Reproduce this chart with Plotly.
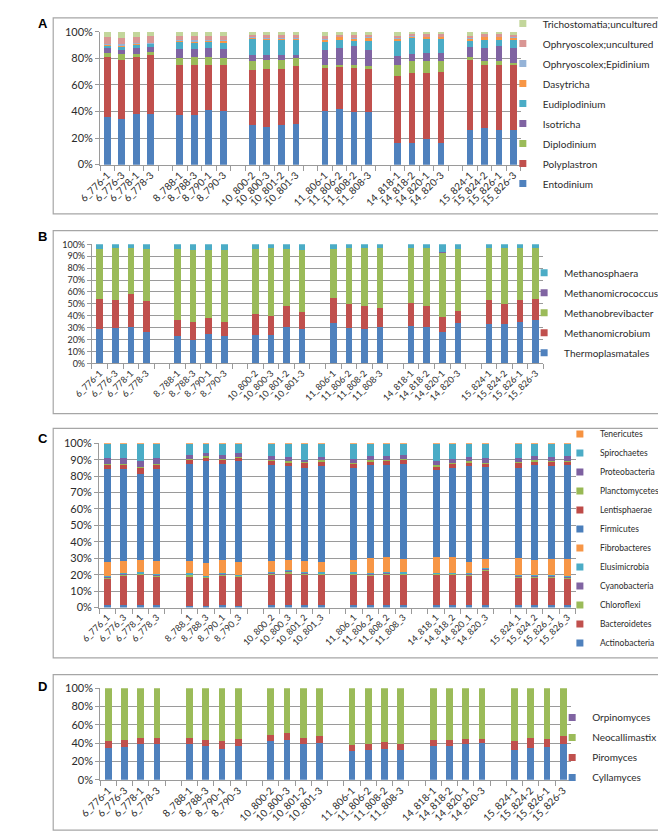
import plotly.graph_objects as go

W, H = 666, 832

# ---------------- data ----------------
samples_dash = ["6_776-1", "6_776-3", "6_778-1", "6_778-3",
                "8_788-1", "8_788-3", "8_790-1", "8_790-3",
                "10_800-2", "10_800-3", "10_801-2", "10_801-3",
                "11_806-1", "11_806-2", "11_808-2", "11_808-3",
                "14_818-1", "14_818-2", "14_820-1", "14_820-3",
                "15_824-1", "15_824-2", "15_826-1", "15_826-3"]
samples_us = ["6_776_1", "6_776_3", "6_778_1", "6_778_3",
              "8_788_1", "8_788_3", "8_790_1", "8_790_3",
              "10_800_2", "10_800_3", "10_801_2", "10_801_3",
              "11_806_1", "11_806_2", "11_808_2", "11_808_3",
              "14_818_1", "14_818_2", "14_820_1", "14_820_3",
              "15_824_1", "15_824_2", "15_826_1", "15_826_3"]

# Panel A - ciliates (%)
entodinium = [35.8, 34.3, 38.3, 38.3, 37.0, 37.0, 41.2, 40.2, 29.6, 28.4, 29.6, 30.4,
              40.0, 41.5, 39.5, 39.5, 16.5, 16.5, 19.0, 16.0, 26.4, 27.2, 25.9, 25.9]
polyplastron = [44.9, 44.7, 42.4, 43.9, 38.3, 38.3, 34.1, 35.1, 41.3, 43.2, 42.0, 43.6,
                32.8, 32.5, 33.3, 32.5, 50.2, 52.6, 50.1, 53.9, 52.6, 48.1, 49.4, 48.9]
diplodinium = [3.3, 4.0, 2.3, 2.5, 4.9, 5.4, 5.4, 4.9, 6.9, 6.9, 6.9, 6.2,
               2.5, 1.3, 2.5, 2.0, 8.6, 8.7, 8.7, 8.4, 2.2, 2.5, 2.5, 1.7]
isotricha = [3.7, 3.4, 4.7, 3.7, 7.0, 6.3, 7.0, 7.0, 4.4, 3.7, 3.7, 2.5,
             11.1, 12.7, 13.6, 12.4, 6.2, 5.4, 6.2, 5.7, 7.2, 9.9, 11.1, 11.5]
eudiplodinium = [2.3, 3.0, 2.9, 2.6, 5.4, 4.9, 5.3, 4.8, 12.8, 12.4, 12.4, 11.9,
                 6.2, 5.8, 4.9, 6.6, 12.3, 11.8, 11.0, 10.6, 5.4, 6.1, 4.9, 5.8]
dasytricha = [0.5, 0.8, 0.4, 0.4, 1.2, 1.3, 0.8, 1.5, 0.8, 0.8, 0.7, 0.8,
              2.0, 2.5, 1.5, 2.5, 1.2, 1.8, 1.5, 1.7, 1.0, 2.5, 2.5, 1.7]
ophryo_epidinium = [0.3, 0.3, 0.3, 0.3, 0.3, 0.3, 0.3, 0.3, 0.2, 0.2, 0.2, 0.2,
                    0.3, 0.2, 0.2, 0.2, 0.3, 0.2, 0.2, 0.2, 0.2, 0.2, 0.2, 0.2]
ophryo_uncultured = [5.5, 5.1, 4.8, 4.8, 2.9, 3.0, 3.0, 3.0, 1.5, 1.9, 2.0, 1.9,
                     1.7, 1.0, 2.0, 1.8, 1.5, 1.0, 1.3, 1.5, 2.0, 1.5, 1.5, 1.8]
tricho_uncultured = [3.7, 4.4, 3.9, 3.5, 3.0, 3.5, 2.9, 3.2, 2.5, 2.5, 2.5, 2.5,
                     3.4, 2.5, 2.5, 2.5, 3.2, 2.0, 2.0, 2.0, 3.0, 2.0, 2.0, 2.5]

# Panel B - methanogens (%)
thermoplasmatales = [28.7, 29.6, 30.4, 26.0, 23.2, 19.3, 24.9, 23.2, 24.0, 24.0, 30.9, 28.7,
                     33.7, 30.1, 29.0, 30.4, 31.5, 30.9, 26.0, 33.7, 32.9, 32.9, 35.1, 36.5]
methanomicrobium = [25.2, 23.4, 27.6, 26.2, 13.3, 15.8, 12.9, 11.9, 17.4, 15.8, 17.1, 14.7,
                    21.3, 19.6, 19.0, 16.0, 19.6, 17.1, 13.2, 10.5, 20.7, 16.8, 18.5, 17.9]
methanobrevibacter = [42.5, 43.7, 38.7, 44.2, 59.4, 59.9, 57.2, 59.9, 54.5, 56.9, 48.4, 51.6,
                      41.4, 47.0, 48.7, 50.3, 45.6, 48.7, 53.9, 52.2, 43.1, 47.0, 43.1, 42.3]
methanomicrococcus = [0.1, 0.1, 0.1, 0.1, 0.1, 0.1, 0.1, 0.1, 0.1, 0.1, 0.1, 0.1,
                      0.1, 0.1, 0.1, 0.1, 0.1, 0.1, 0.1, 0.1, 0.1, 0.1, 0.1, 0.1]
methanosphaera = [3.5, 3.2, 3.2, 3.5, 4.0, 4.9, 4.9, 4.9, 4.0, 3.2, 3.5, 4.9,
                  3.5, 3.2, 3.2, 3.2, 3.2, 3.2, 6.8, 3.5, 3.2, 3.2, 3.2, 3.2]

# Panel C - bacterial phyla (%)
actinobacteria = [1.4, 1.4, 1.4, 1.4, 1.2, 1.2, 1.4, 1.2, 1.6, 1.6, 1.6, 1.6,
                  1.4, 1.4, 1.4, 1.4, 1.4, 1.4, 1.4, 1.4, 1.4, 1.4, 1.4, 1.4]
bacteroidetes = [16.0, 18.0, 18.6, 17.6, 17.8, 16.8, 18.0, 17.4, 18.4, 19.0, 18.4, 18.4,
                 18.6, 18.0, 18.6, 18.6, 18.6, 18.6, 18.0, 21.0, 16.6, 16.6, 17.0, 16.0]
chloroflexi = [0.8, 0.7, 0.6, 0.6, 0.8, 0.6, 0.7, 0.6, 0.7, 1.4, 0.7, 0.6,
               0.6, 0.7, 0.7, 0.6, 0.4, 0.4, 0.7, 0.7, 0.7, 0.8, 0.6, 0.8]
cyanobacteria = [0.3, 0.3, 0.3, 0.3, 0.4, 0.3, 0.4, 0.3, 0.4, 0.4, 0.4, 0.3,
                 0.3, 0.4, 0.4, 0.3, 0.3, 0.3, 0.4, 0.4, 0.4, 0.6, 0.3, 0.4]
elusimicrobia = [0.9, 0.6, 0.5, 0.5, 0.8, 0.5, 0.5, 0.5, 0.5, 0.6, 0.5, 0.5,
                 0.5, 0.5, 0.5, 0.5, 0.3, 0.3, 0.5, 0.5, 0.5, 0.6, 0.3, 0.4]
fibrobacteres = [8.2, 7.6, 7.6, 8.2, 7.6, 8.0, 8.0, 7.6, 7.0, 6.0, 7.0, 6.6,
                 7.6, 9.0, 9.0, 8.0, 9.6, 9.6, 7.0, 5.6, 10.4, 9.0, 9.8, 10.4]
firmicutes = [56.8, 55.8, 52.4, 55.8, 58.8, 62.0, 58.4, 61.4, 58.4, 57.4, 56.4, 58.0,
              56.0, 57.0, 56.4, 58.2, 52.8, 54.4, 58.0, 55.8, 55.0, 57.6, 56.6, 57.2]
lentisphaerae = [2.6, 2.6, 3.6, 2.6, 2.6, 1.6, 2.6, 2.0, 2.4, 1.6, 3.0, 3.0,
                 2.4, 2.0, 2.4, 2.4, 2.6, 2.4, 2.0, 2.2, 3.0, 2.4, 2.6, 2.0]
planctomycetes = [0.6, 0.6, 0.6, 0.6, 0.6, 1.0, 0.6, 0.6, 0.6, 1.0, 0.4, 0.6,
                  0.6, 0.6, 0.6, 0.6, 1.0, 0.6, 1.0, 0.6, 0.6, 0.6, 0.6, 0.6]
proteobacteria = [3.4, 3.4, 3.4, 3.4, 2.4, 2.0, 2.4, 2.4, 2.0, 2.4, 1.6, 1.8,
                  2.6, 2.4, 2.0, 2.0, 2.4, 2.4, 2.4, 2.8, 2.4, 2.4, 2.2, 2.8]
spirochaetes = [8.7, 8.7, 10.7, 8.7, 6.7, 5.7, 6.7, 5.7, 7.7, 8.3, 9.7, 8.3,
                9.1, 7.7, 7.7, 7.1, 10.3, 9.3, 8.3, 8.7, 8.7, 7.7, 8.3, 7.7]
tenericutes = [0.3, 0.3, 0.3, 0.3, 0.3, 0.3, 0.3, 0.3, 0.3, 0.3, 0.3, 0.3,
               0.3, 0.3, 0.3, 0.3, 0.3, 0.3, 0.3, 0.3, 0.3, 0.3, 0.3, 0.3]

# Panel D - fungi (%)
cyllamyces = [35.3, 36.0, 38.8, 38.8, 38.8, 36.7, 33.5, 36.7, 42.4, 43.2, 38.8, 40.6,
              31.7, 33.0, 33.8, 33.0, 37.0, 36.7, 38.8, 40.6, 33.0, 34.9, 35.6, 38.8]
piromyces = [7.1, 7.2, 7.2, 7.2, 7.2, 6.5, 8.5, 8.3, 6.9, 7.8, 7.2, 6.9,
             6.1, 6.6, 7.9, 6.6, 6.9, 6.5, 6.2, 4.4, 9.0, 11.1, 9.4, 8.7]
neocallimastix = [57.6, 56.8, 54.0, 54.0, 54.0, 56.8, 58.0, 55.0, 50.7, 49.0, 54.0, 52.5,
                  62.2, 60.4, 58.3, 60.4, 56.1, 56.8, 55.0, 55.0, 58.0, 54.0, 55.0, 52.5]
orpinomyces = [0.0] * 24

yticks_20 = [0, 20, 40, 60, 80, 100]
yticks_10 = [0, 10, 20, 30, 40, 50, 60, 70, 80, 90, 100]

# ---------------- helpers ----------------
def px_x(p):
    return p / W

def px_y(p):
    return 1 - p / H

GROUP = 4

def with_gaps(values):
    out = []
    for i, v in enumerate(values):
        if i and i % GROUP == 0:
            out.append(None)
        out.append(v)
    return out

def cats_with_gaps(labels):
    out = []
    g = 0
    for i, v in enumerate(labels):
        if i and i % GROUP == 0:
            g += 1
            out.append(" " * g)
        out.append(v)
    return out

FONT = "Lato, 'Liberation Sans', Arial, sans-serif"
GRID = "#9A9A9A"
TXT = "#2b2b2b"

fig = go.Figure()

panels = [
    dict(key="", legend="legend", labels=samples_dash, width=0.47,
         series=[("Entodinium", entodinium, "#4F81BD"),
                 ("Polyplastron", polyplastron, "#C0504D"),
                 ("Diplodinium", diplodinium, "#9BBB59"),
                 ("Isotricha", isotricha, "#8064A2"),
                 ("Eudiplodinium", eudiplodinium, "#4BACC6"),
                 ("Dasytricha", dasytricha, "#F79646"),
                 ("Ophryoscolex;Epidinium", ophryo_epidinium, "#95B3D7"),
                 ("Ophryoscolex;uncultured", ophryo_uncultured, "#D99694"),
                 ("Trichostomatia;uncultured", tricho_uncultured, "#C3D69B")],
         xdom=(72.5, 507.5), ydom=(17, 152), ticks=yticks_20, yfs=11, xfs=10,
         lx=489, ly=-6, lfs=10, gap=1),
    dict(key="2", legend="legend2", labels=samples_dash, width=0.42,
         series=[("Thermoplasmatales", thermoplasmatales, "#4F81BD"),
                 ("Methanomicrobium", methanomicrobium, "#C0504D"),
                 ("Methanobrevibacter", methanobrevibacter, "#9BBB59"),
                 ("Methanomicrococcus", methanomicrococcus, "#8064A2"),
                 ("Methanosphaera", methanosphaera, "#4BACC6")],
         xdom=(64, 531), ydom=(233, 354), ticks=yticks_10, yfs=9, xfs=9,
         lx=511, ly=247, lfs=10, gap=1),
    dict(key="3", legend="legend3", labels=samples_us, width=0.42,
         series=[("Actinobacteria", actinobacteria, "#4F81BD"),
                 ("Bacteroidetes", bacteroidetes, "#C0504D"),
                 ("Chloroflexi", chloroflexi, "#9BBB59"),
                 ("Cyanobacteria", cyanobacteria, "#8064A2"),
                 ("Elusimicrobia", elusimicrobia, "#4BACC6"),
                 ("Fibrobacteres", fibrobacteres, "#F79646"),
                 ("Firmicutes", firmicutes, "#4A7EBB"),
                 ("Lentisphaerae", lentisphaerae, "#BE4B48"),
                 ("Planctomycetes", planctomycetes, "#98B954"),
                 ("Proteobacteria", proteobacteria, "#7D60A0"),
                 ("Spirochaetes", spirochaetes, "#4BACC6"),
                 ("Tenericutes", tenericutes, "#F69240")],
         xdom=(71.5, 564.5), ydom=(435, 602), ticks=yticks_10, yfs=11, xfs=9,
         lx=548, ly=411, lfs=8.5, gap=0),
    dict(key="4", legend="legend4", labels=samples_dash, width=0.42,
         series=[("Cyllamyces", cyllamyces, "#4F81BD"),
                 ("Piromyces", piromyces, "#C0504D"),
                 ("Neocallimastix", neocallimastix, "#9BBB59"),
                 ("Orpinomyces", orpinomyces, "#8064A2")],
         xdom=(72.6, 559.8), ydom=(684, 777), ticks=yticks_20, yfs=11, xfs=10,
         lx=540, ly=699, lfs=10, gap=1),
]

layout = {}
for p in panels:
    xa, ya = "x" + p["key"], "y" + p["key"]
    cats = cats_with_gaps(p["labels"])
    n = len(p["series"])
    for i, (name, vals, col) in enumerate(p["series"]):
        fig.add_trace(go.Bar(x=cats, y=with_gaps(vals), name=name,
                             marker=dict(color=col, line=dict(width=0)),
                             width=p["width"], xaxis=xa, yaxis=ya,
                             legend=p["legend"], legendgroup=p["legend"] + name,
                             legendrank=n - i,
                             showlegend=False, hoverinfo="skip"))
        fig.add_trace(go.Scatter(x=[None], y=[None], name=name, mode="markers",
                                 marker=dict(symbol="square", size=7, color=col),
                                 xaxis=xa, yaxis=ya, legend=p["legend"],
                                 legendgroup=p["legend"] + name, legendrank=n - i,
                                 showlegend=True))
    layout["xaxis" + p["key"]] = dict(
        domain=[px_x(p["xdom"][0]), px_x(p["xdom"][1])], anchor=ya,
        type="category", categoryorder="array", categoryarray=cats,
        range=[-0.5, len(cats) - 0.5], tickson="boundaries",
        ticks="outside", ticklen=5, tickcolor=GRID, showline=True,
        linecolor=GRID, linewidth=1, tickangle=-45, showgrid=False,
        tickfont=dict(family=FONT, size=p["xfs"], color=TXT), fixedrange=True)
    layout["yaxis" + p["key"]] = dict(
        domain=[px_y(p["ydom"][1]), px_y(p["ydom"][0])], anchor=xa,
        range=[0, 100], tickmode="array", tickvals=p["ticks"],
        ticktext=["%d%%" % v for v in p["ticks"]],
        ticks="outside", ticklen=4, tickcolor=GRID,
        showline=True, linecolor=GRID, linewidth=1, showgrid=True,
        gridcolor=GRID, gridwidth=1, zeroline=False,
        tickfont=dict(family=FONT, size=p["yfs"], color=TXT), fixedrange=True)
    layout[p["legend"]] = dict(
        x=px_x(p["lx"]), y=px_y(p["ly"]), xanchor="left", yanchor="top",
        traceorder="grouped", tracegroupgap=p["gap"],
        bgcolor="rgba(0,0,0,0)", borderwidth=0,
        font=dict(family=FONT, size=p["lfs"], color=TXT))

boxes = [(24, 3, 662, 202), (24, 219, 662, 405), (24, 420, 662, 653), (24, 670, 662, 828)]
shapes = [dict(type="rect", xref="paper", yref="paper",
               x0=px_x(b[0]), x1=px_x(b[2]), y0=px_y(b[3]), y1=px_y(b[1]),
               line=dict(color="#A6A6A6", width=1.2), fillcolor="rgba(0,0,0,0)",
               layer="below") for b in boxes]

letters = [("A", 9), ("B", 225), ("C", 430), ("D", 682)]
annotations = [dict(text="<b>%s</b>" % t, x=px_x(6), y=px_y(yy), xref="paper", yref="paper",
                    xanchor="left", yanchor="middle", showarrow=False,
                    font=dict(family="Liberation Sans, Arial, sans-serif", size=13, color="#000"))
               for t, yy in letters]

fig.update_layout(width=W, height=H, margin=dict(l=0, r=0, t=0, b=0),
                  paper_bgcolor="white", plot_bgcolor="white",
                  barmode="stack", barnorm="percent",
                  shapes=shapes, annotations=annotations,
                  font=dict(family=FONT, color=TXT), **layout)

fig.write_html("out.html")
